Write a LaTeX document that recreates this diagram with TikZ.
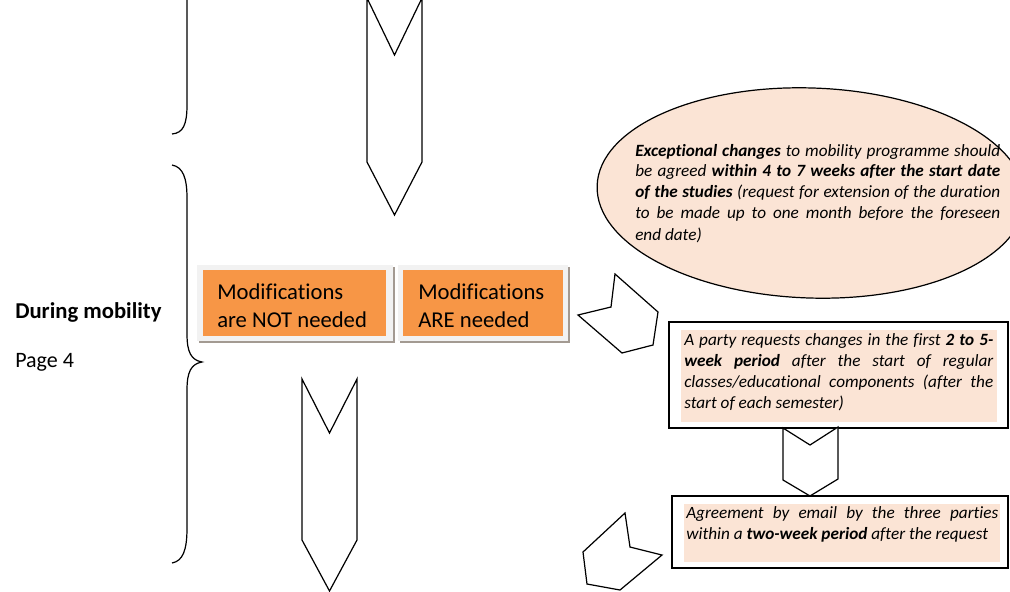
\documentclass[tikz,border=0pt]{standalone}
\usepackage{xcolor}
\usepackage{fontspec}
\setmainfont{Carlito}[Ligatures=NoCommon]
\usepackage{tikz}
\usetikzlibrary{shapes.geometric}

\definecolor{modorange}{HTML}{F79646}
\definecolor{notepeach}{HTML}{FBE4D5}
\definecolor{framegray}{HTML}{F2F2F2}
\definecolor{shadowgray}{HTML}{A39A92}

\begin{document}
\begin{tikzpicture}[x=0.75pt,y=-0.75pt]
        \useasboundingbox (0,0) rectangle (1010,592);
        \clip (0,0) rectangle (1010,592);
        
        % Marking the side labels
        \node (phase) [anchor=base west, inner sep=0, font=\fontsize{17}{20}\selectfont\bfseries] at (15,318) {During mobility};%
        \node (page) [anchor=base west, inner sep=0, font=\fontsize{16.5}{20}\selectfont] at (15,367) {Page 4};%
        
        % Drawing brace of the previous phase
        \draw [line width=0.032cm] (187,-5) -- (187,105) .. controls (187,125) and (183,133) .. (172,134);%
        
        % Drawing brace of the mobility phase
        \draw [line width=0.032cm] (172,165) .. controls (183,167) and (187,178) .. (187,198) -- (187,334)
              .. controls (187,352) and (191,360) .. (202,362) .. controls (191,364) and (187,372) .. (187,390)
              -- (187,528) .. controls (187,550) and (183,561) .. (172,563);%
        
        % Drawing top chevron
        \draw [line width=0.032cm, fill=white] (367,-2) -- (394.5,55) -- (422,-2) -- (422,162) -- (394.5,215) -- (367,162) -- cycle;%
        
        % Drawing bottom chevron
        \draw [line width=0.032cm, fill=white] (302,379) -- (329.5,433) -- (357,379) -- (357,540) -- (329.5,591) -- (302,540) -- cycle;%
        
        % Drawing box for NOT needed
        \fill [shadowgray] (199,267) rectangle (395,343);%
        \fill [framegray] (197,265) rectangle (393,341);%
        \node (notneeded) [fill=modorange, anchor=north west, minimum width=137.25pt, minimum height=49.5pt, inner sep=0] at (203,270) {};%
        \node (notneededtext) [anchor=base west, inner sep=0, align=left, font=\fontsize{17}{21}\selectfont] at (217,327) {Modifications\\are NOT needed};%
        
        % Drawing box for ARE needed
        \fill [shadowgray] (400,267) rectangle (570,343);%
        \fill [framegray] (398,265) rectangle (568,341);%
        \node (areneeded) [fill=modorange, anchor=north west, minimum width=120pt, minimum height=49.5pt, inner sep=0] at (403,270) {};%
        \node (areneededtext) [anchor=base west, inner sep=0, align=left, font=\fontsize{17}{21}\selectfont] at (418,327) {Modifications\\ARE needed};%
        
        % Drawing ellipse for exceptional changes
        \node (exceptional) [draw, line width=0.032cm, ellipse, fill=notepeach, rotate=-2, minimum width=321pt, minimum height=157.5pt, inner sep=0] at (811,193) {};%
        \node (exceptionaltext) [anchor=base west, inner sep=0, text width=273.75pt, align=justify, font=\fontsize{12.9}{15.75}\selectfont\itshape] at (635,156)
              {\textbf{Exceptional changes} to mobility programme should\linebreak be agreed \textbf{within 4 to 7 weeks after the start date}\linebreak \textbf{of the studies} (request for extension of the duration\linebreak to be made up to one month before the foreseen\linebreak end date)};%
        
        % Drawing chevron to the request box
        \draw [line width=0.032cm, fill=white] (615,274) -- (611,307) -- (578,315) -- (622,353) -- (653,345) -- (658,312) -- cycle;%
        
        % Drawing request box
        \draw [line width=0.032cm] (669,322) rectangle (1008,428);%
        \node (request) [fill=notepeach, anchor=north west, minimum width=237pt, minimum height=69pt, inner sep=0] at (681,330) {};%
        \node (requesttext) [anchor=base west, inner sep=0, text width=231.75pt, align=justify, font=\fontsize{12.9}{15.75}\selectfont\itshape] at (684,345)
              {A party requests changes in the first \textbf{2 to 5-}\linebreak \textbf{week period} after the start of regular\linebreak classes/educational components (after the\linebreak start of each semester)};%
        
        % Drawing small chevron
        \draw [line width=0.032cm, fill=white] (783,428) -- (810,445) -- (838,427) -- (838,479) -- (810,496) -- (783,480) -- cycle;%
        
        % Drawing agreement box
        \draw [line width=0.032cm] (672,496) rectangle (1008,568);%
        \node (agreement) [fill=notepeach, anchor=north west, minimum width=237pt, minimum height=43.5pt, inner sep=0] at (684,504) {};%
        \node (agreementtext) [anchor=base west, inner sep=0, text width=234pt, align=justify, font=\fontsize{12.9}{15.75}\selectfont\itshape] at (686,518)
              {Agreement by email by the three parties\linebreak within a \textbf{two-week period} after the request};%
        
        % Drawing chevron from the agreement box
        \draw [line width=0.032cm, fill=white] (625,513) -- (630,547) -- (662,555) -- (620,590) -- (587,584) -- (583,552) -- cycle;%
\end{tikzpicture}
\end{document}
